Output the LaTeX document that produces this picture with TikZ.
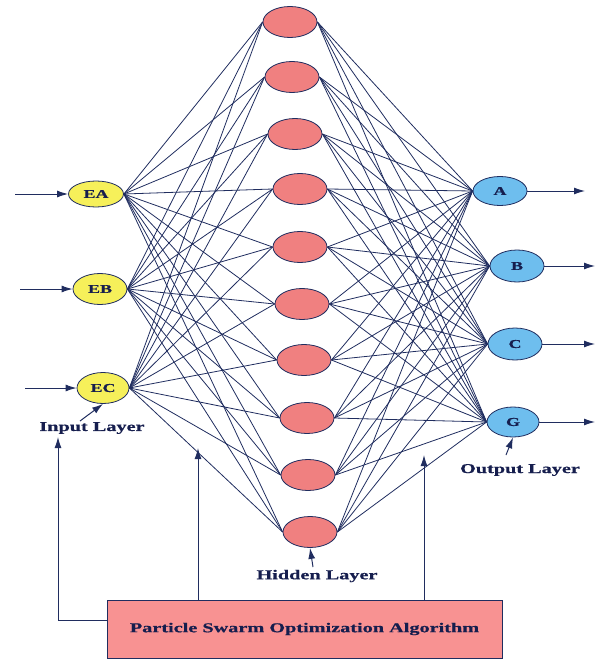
\documentclass[tikz,border=0pt]{standalone}
\usepackage{fontspec}
\newfontfamily\lblfont{Liberation Serif}[FakeStretch=1.5,FakeBold=0.6]
\usetikzlibrary{arrows.meta,shapes.geometric,backgrounds}
\definecolor{navy}{RGB}{32,45,95}
\definecolor{txt}{RGB}{22,30,78}
\definecolor{inyel}{RGB}{246,240,90}
\definecolor{outblue}{RGB}{110,190,238}
\definecolor{hidred}{RGB}{240,128,128}
\definecolor{boxred}{RGB}{248,146,146}
\tikzset{
  innode/.style={ellipse,draw=navy,line width=0.8pt,fill=inyel,inner sep=0pt,font=\lblfont\bfseries\fontsize{12}{12}\selectfont,text=txt},
  outnode/.style={ellipse,draw=navy,line width=0.8pt,fill=outblue,inner sep=0pt,font=\lblfont\bfseries\fontsize{12}{12}\selectfont,text=txt},
  hidnode/.style={ellipse,draw=navy,line width=0.8pt,fill=hidred,inner sep=0pt,minimum width=54pt,minimum height=31pt},
  lbl/.style={font=\lblfont\bfseries\fontsize{13.5}{13.5}\selectfont,text=txt,inner sep=0pt},
  conn/.style={draw=navy,line width=0.8pt},
  arr/.style={draw=navy,line width=1pt,-{Latex[length=11pt,width=7pt]}},
  psobox/.style={draw=navy,line width=0.8pt,fill=boxred,minimum width=395pt,minimum height=58pt,inner sep=0pt,font=\lblfont\bfseries\fontsize{13.5}{13.5}\selectfont,text=txt}
}
\begin{document}
\begin{tikzpicture}[x=1pt,y=-1pt]
\useasboundingbox (0,0) rectangle (605,663);
% input nodes
\node[innode,minimum width=55pt,minimum height=26pt] (EA) at (96,194) {EA};
\node[innode,minimum width=54pt,minimum height=31pt] (EB) at (100,289) {EB};
\node[innode,minimum width=52pt,minimum height=31pt] (EC) at (103,388) {EC};
% hidden nodes
\node[hidnode] (h1) at (290,22) {};
\node[hidnode] (h2) at (292,77) {};
\node[hidnode] (h3) at (295,134) {};
\node[hidnode] (h4) at (300,189) {};
\node[hidnode] (h5) at (300,247) {};
\node[hidnode] (h6) at (302,304) {};
\node[hidnode] (h7) at (304,360) {};
\node[hidnode] (h8) at (307,418) {};
\node[hidnode] (h9) at (308,475) {};
\node[hidnode] (h10) at (310,532) {};
% output nodes
\node[outnode,minimum width=54pt,minimum height=29pt] (A) at (500,191) {A};
\node[outnode,minimum width=54pt,minimum height=32pt] (B) at (517,266) {B};
\node[outnode,minimum width=54pt,minimum height=32pt] (C) at (515,344) {C};
\node[outnode,minimum width=52pt,minimum height=30pt] (G) at (513,422) {G};
% labels
\node[lbl] (inlbl) at (92,428) {Input Layer};
\node[lbl] (hidlbl) at (317,576) {Hidden Layer};
\node[lbl] (outlbl) at (520,470) {Output Layer};
% PSO box
\node[psobox] (pso) at (304.5,629) {Particle Swarm Optimization Algorithm};
% coordinates
\coordinate (ina) at (15,194);
\coordinate (inb) at (20,289);
\coordinate (inc) at (25,388);
\coordinate (oa) at (585,191);
\coordinate (ob) at (595,266);
\coordinate (oc) at (595,344);
\coordinate (og) at (595,422);
\coordinate (lcorner) at (58,620);
\coordinate (ltip) at (58,437);
\coordinate (mbase) at (198,600);
\coordinate (mtip) at (198,448);
\coordinate (rbase) at (424,600);
\coordinate (rtip) at (424,455);
\coordinate (inls) at (80,421);
\coordinate (hidls) at (313,567);
\coordinate (outls) at (506,455);
% connections
\begin{scope}[on background layer]
\foreach \i in {EA,EB,EC}{
  \foreach \h in {h1,h2,h3,h4,h5,h6,h7,h8,h9,h10}{
    \draw[conn] (\i.east) -- (\h.west);
  }
}
\foreach \h in {h1,h2,h3,h4,h5,h6,h7,h8,h9,h10}{
  \foreach \o in {A,B,C,G}{
    \draw[conn] (\h.east) -- (\o.west);
  }
}
\end{scope}
% io arrows
\draw[arr] (ina) -- (EA.west);
\draw[arr] (inb) -- (EB.west);
\draw[arr] (inc) -- (EC.west);
\draw[arr] (A.east) -- (oa);
\draw[arr] (B.east) -- (ob);
\draw[arr] (C.east) -- (oc);
\draw[arr] (G.east) -- (og);
% label arrows
\draw[arr] (inls) -- (EC.south);
\draw[arr] (hidls) -- (h10.south);
\draw[arr] (outls) -- (G.south);
% feedback arrows
\draw[arr] (pso.west |- lcorner) -- (lcorner) -- (ltip);
\draw[arr] (pso.north -| mbase) -- (mtip);
\draw[arr] (pso.north -| rbase) -- (rtip);
\end{tikzpicture}
\end{document}
